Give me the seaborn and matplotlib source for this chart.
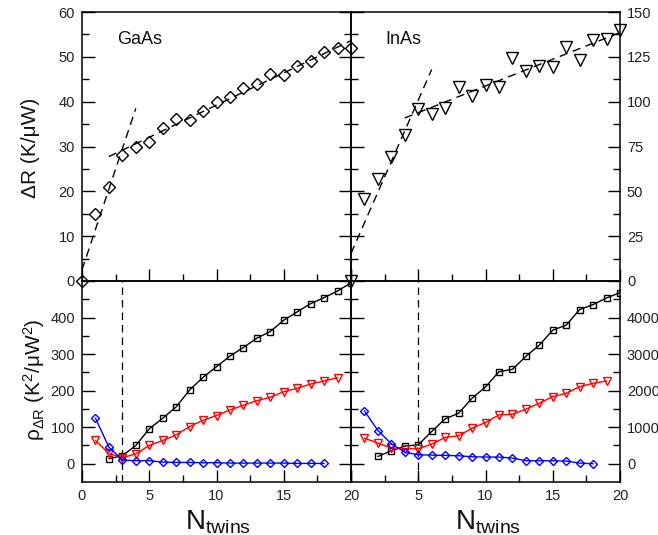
import numpy as np
import pandas as pd
import matplotlib
matplotlib.use("Agg")
import matplotlib.pyplot as plt
import seaborn as sns

sns.set_theme(style="white")
plt.rcParams["font.family"] = ["Liberation Sans", "DejaVu Sans"]
plt.rcParams["mathtext.fontset"] = "custom"
plt.rcParams["mathtext.rm"] = "Liberation Sans"
plt.rcParams["mathtext.it"] = "Liberation Sans:italic"
plt.rcParams["mathtext.bf"] = "Liberation Sans:bold"

# ---- thermal resistance vs number of twins ----
n_gaas = list(range(0, 21))
dr_gaas = [0, 15, 21, 28, 30, 31, 34.1, 36.1, 36, 38, 40, 41, 43, 44, 46.1,
           45.9, 47.9, 49, 51, 52, 52]

n_inas = list(range(0, 21))
dr_inas = [0, 45.5, 57, 69, 81.3, 95.8, 93.4, 96.2, 108.4, 103.3, 109.5,
           108.4, 124.4, 117.3, 120.1, 119.6, 130.4, 123.3, 134.5, 135.1, 139.7]

# ---- variance of the fitted resistance (GaAs) ----
n_sq_gaas = list(range(2, 21))
rho_sq_gaas = [13.6, 21.8, 50, 95.5, 124.5, 155.5, 201.8, 236.4, 265.5, 294.5,
               318, 343.6, 361.8, 392.7, 415.5, 438, 454.5, 472.7, 495]
n_tri_gaas = list(range(1, 20))
rho_tri_gaas = [63.6, 28, 16.4, 27, 50, 63.6, 79, 101.8, 119, 131.8, 147, 160,
                172.7, 181.8, 197, 206.4, 218, 226.4, 235.5]
n_dia_gaas = list(range(1, 19))
rho_dia_gaas = [124.5, 45.5, 10, 8.2, 8.2, 4.5, 3.6, 3.6, 2.7, 2.7, 1.8, 1.8,
                1.8, 1.8, 1.8, 0.9, 0.9, 0.9]

# ---- variance of the fitted resistance (InAs) ----
n_sq_inas = list(range(2, 21))
rho_sq_inas = [200, 354, 482, 518, 882, 1227, 1382, 1791, 2100, 2518, 2582,
               2936, 3245, 3655, 3791, 4218, 4355, 4536, 4682]
n_tri_inas = list(range(1, 20))
rho_tri_inas = [700, 564, 427, 409, 409, 536, 718, 764, 973, 1127, 1336, 1355,
                1491, 1655, 1836, 1927, 2109, 2200, 2264]
n_dia_inas = list(range(1, 19))
rho_dia_inas = [1445, 909, 545, 318, 245, 236, 227, 218, 191, 182, 182, 155,
                82, 82, 82, 73, 18, 0]

n_crit_gaas = 3
n_crit_inas = 5

W, H = 658, 535
fig = plt.figure(figsize=(W / 100, H / 100), dpi=100)

def frac(x0, y0, x1, y1):
    return [x0 / W, 1 - y1 / H, (x1 - x0) / W, (y1 - y0) / H]

ax_tl = fig.add_axes(frac(82, 12, 351, 281))
ax_tr = fig.add_axes(frac(351, 12, 620, 281))
ax_bl = fig.add_axes(frac(82, 281, 351, 482))
ax_br = fig.add_axes(frac(351, 281, 620, 482))

for ax in (ax_tl, ax_tr, ax_bl, ax_br):
    ax.set_facecolor("none")
    for s in ax.spines.values():
        s.set_linewidth(1.1)
        s.set_color("black")
    ax.tick_params(which="both", direction="in", color="black", width=1.0,
                   labelsize=10.5, labelcolor="#222222", pad=5,
                   left=True, right=True, bottom=True, top=False)
    ax.tick_params(which="major", length=9)
    ax.tick_params(which="minor", length=5)
    ax.set_xlim(0, 20)
    ax.set_xticks([0, 5, 10, 15, 20])
    ax.set_xticks([2.5, 7.5, 12.5, 17.5], minor=True)
    ax.grid(False)

def open_markers(ax, x, y, marker, ms, color="black", ls="", lw=1.0, clip=True):
    sns.lineplot(x=x, y=y, ax=ax, marker=marker, markersize=ms, linestyle=ls,
                 linewidth=lw, color=color, markerfacecolor="none",
                 markeredgecolor=color, markeredgewidth=1.0, clip_on=clip,
                 estimator=None, sort=False, legend=False, zorder=5)

def fit_line(ax, x, y, lo, hi, x0, x1):
    xs = np.asarray(x, dtype=float)
    ys = np.asarray(y, dtype=float)
    sel = (xs >= lo) & (xs <= hi)
    k, b = np.polyfit(xs[sel], ys[sel], 1)
    gx = np.array([x0, x1])
    sns.lineplot(x=gx, y=k * gx + b, ax=ax, color="black", linewidth=1.0,
                 linestyle=(0, (6, 4)), legend=False, zorder=3)

# top-left: GaAs
open_markers(ax_tl, n_gaas, dr_gaas, "D", 6.5, clip=False)
fit_line(ax_tl, n_gaas, dr_gaas, 0, 3, 0, 4)
fit_line(ax_tl, n_gaas, dr_gaas, 3, 20, 2, 20)
ax_tl.set_ylim(0, 60)
ax_tl.set_yticks(range(0, 61, 10))
ax_tl.set_yticks(range(5, 60, 10), minor=True)
ax_tl.tick_params(labelbottom=False)
ax_tl.text(0.13, 0.896, "GaAs", transform=ax_tl.transAxes, fontsize=13,
           va="center", ha="left", color="#111111")

# top-right: InAs
open_markers(ax_tr, n_inas, dr_inas, "v", 8, clip=False)
fit_line(ax_tr, n_inas, dr_inas, 0, 5, 0, 6)
fit_line(ax_tr, n_inas, dr_inas, 5, 20, 4, 20)
ax_tr.set_ylim(0, 150)
ax_tr.set_yticks(range(0, 151, 25))
ax_tr.set_yticks(np.arange(12.5, 150, 25), minor=True)
ax_tr.tick_params(labelbottom=False, labelleft=False, labelright=True)
ax_tr.text(0.126, 0.896, "InAs", transform=ax_tr.transAxes, fontsize=13,
           va="center", ha="left", color="#111111")

# bottom-left: GaAs variance
ax_bl.axvline(n_crit_gaas, color="black", lw=0.9, ls=(0, (6, 4)), zorder=2)
open_markers(ax_bl, n_sq_gaas, rho_sq_gaas, "s", 5, color="black", ls="-")
open_markers(ax_bl, n_tri_gaas, rho_tri_gaas, "v", 5.5, color="red", ls="-")
open_markers(ax_bl, n_dia_gaas, rho_dia_gaas, "D", 4.5, color="blue", ls="-")
ax_bl.set_ylim(-50, 500)
ax_bl.set_yticks(range(0, 401, 100))
ax_bl.set_yticks(range(50, 500, 100), minor=True)
ax_bl.set_xticklabels(["0", "5", "10", "15", "20"])

# bottom-right: InAs variance
ax_br.axvline(n_crit_inas, color="black", lw=0.9, ls=(0, (6, 4)), zorder=2)
open_markers(ax_br, n_sq_inas, rho_sq_inas, "s", 5, color="black", ls="-")
open_markers(ax_br, n_tri_inas, rho_tri_inas, "v", 5.5, color="red", ls="-")
open_markers(ax_br, n_dia_inas, rho_dia_inas, "D", 4.5, color="blue", ls="-")
ax_br.set_ylim(-500, 5000)
ax_br.set_yticks(range(0, 4001, 1000))
ax_br.set_yticks(range(500, 5000, 1000), minor=True)
ax_br.set_xticklabels(["", "5", "10", "15", "20"])
ax_br.tick_params(labelleft=False, labelright=True)

for ax in (ax_tl, ax_tr, ax_bl, ax_br):
    ax.set_xlabel("")
    ax.set_ylabel("")

fig.text(30 / W, 1 - 148 / H, "ΔR (K/μW)", rotation=90, fontsize=15,
         ha="center", va="center", color="#111111")
fig.text(34 / W, 1 - 380 / H, r"$\mathrm{ρ_{ΔR}}$ (K$^{2}$/μW$^{2}$)",
         rotation=90, fontsize=15, ha="center", va="center", color="#111111")
fig.text(218 / W, 1 - 522 / H, r"N$_{\mathrm{twins}}$", fontsize=20,
         ha="center", va="center", color="#111111")
fig.text(488 / W, 1 - 522 / H, r"N$_{\mathrm{twins}}$", fontsize=20,
         ha="center", va="center", color="#111111")

fig.savefig("out.png", dpi=100)
